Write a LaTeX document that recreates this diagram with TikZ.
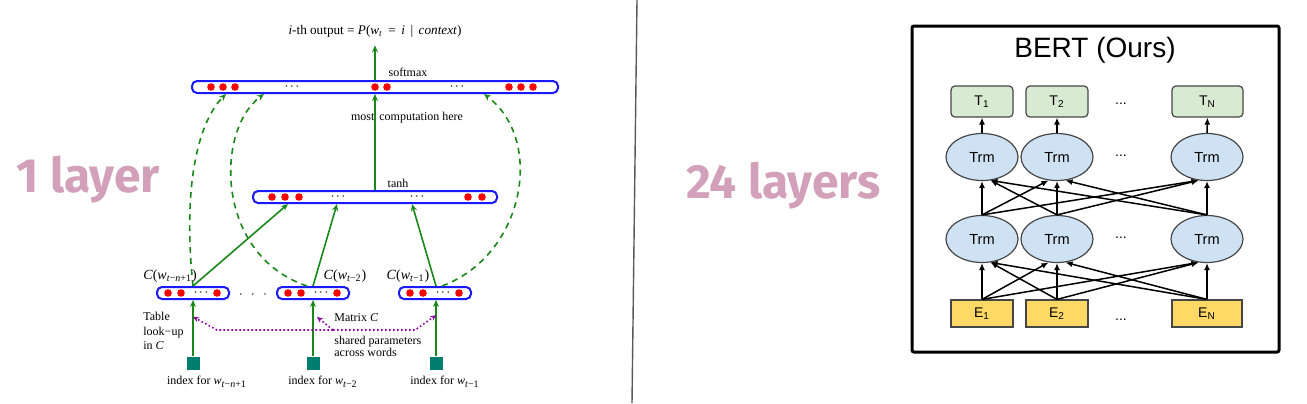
\documentclass[tikz,border=0pt]{standalone}
\usepackage{fontspec}
\setmainfont{Liberation Serif}
\newfontfamily\arialf{Liberation Sans}
\newfontfamily\bigf{Fira Sans}
\usetikzlibrary{shapes.geometric,arrows.meta,calc}
\newcommand\iv[1]{\textit{#1}}
\newcommand\sbs[1]{\textsubscript{#1}}
\definecolor{nngreen}{RGB}{25,135,25}
\definecolor{nnblue}{RGB}{25,25,250}
\definecolor{nnred}{RGB}{250,0,0}
\definecolor{nnteal}{RGB}{0,125,110}
\definecolor{nnpurple}{RGB}{140,0,160}
\definecolor{pinkl}{RGB}{210,160,184}
\definecolor{tgreen}{RGB}{217,234,211}
\definecolor{tblue}{RGB}{207,226,243}
\definecolor{eyellow}{RGB}{255,217,102}
\definecolor{bdark}{RGB}{70,70,70}
\tikzset{
  vecbox/.style={draw=nnblue, line width=1pt, rounded corners=2.5pt, minimum height=6pt, inner sep=0pt},
  garrow/.style={draw=nngreen, line width=0.8pt, -{Stealth[length=3.5pt,width=3pt]}},
  gdash/.style={garrow, dash pattern=on 3pt off 2.5pt},
  pdot/.style={draw=nnpurple, line width=0.8pt, dash pattern=on 0.8pt off 1.2pt},
  parrow/.style={pdot, -{Stealth[length=3pt,width=2.6pt]}},
  lbl/.style={font=\fontsize{6}{7.25}\selectfont, inner sep=0pt},
  mlbl/.style={font=\fontsize{7}{8}\selectfont, inner sep=0pt},
  idx/.style={fill=nnteal, minimum size=6.5pt, inner sep=0pt},
  tbox/.style={draw=bdark, fill=tgreen, rounded corners=2pt, line width=0.6pt, minimum height=15.5pt, inner sep=0pt, font=\arialf\fontsize{7}{8}\selectfont},
  ebox/.style={draw=bdark, fill=eyellow, line width=0.6pt, minimum height=13.5pt, inner sep=0pt, font=\arialf\fontsize{7}{8}\selectfont},
  trm/.style={ellipse, draw=bdark, fill=tblue, line width=0.6pt, minimum width=36pt, minimum height=23.5pt, inner sep=0pt, font=\arialf\fontsize{7.3}{8}\selectfont},
  barrow/.style={line width=0.75pt, -{Latex[length=3.5pt,width=3pt]}},
  bdots/.style={font=\arialf\fontsize{7}{8}\selectfont, inner sep=0pt},
  big/.style={anchor=base west, text=pinkl, inner sep=0pt, font=\bigf\bfseries\fontsize{24}{24}\selectfont}
}
\begin{document}
\begin{tikzpicture}[x=0.5pt,y=-0.5pt]
\useasboundingbox (0,0) rectangle (1307,403);
% divider
\coordinate (dtop) at (637,0);
\coordinate (dbot) at (632,403);
\draw[gray!70!black, line width=0.7pt] (dtop) -- (dbot);
% big labels
\node[big] (one) at (16,192) {1 layer};
\node[big] (twentyfour) at (686,198) {24 layers};

% ---------- left: NPLM ----------
\node[vecbox, minimum width=183pt] (soft) at (375,87) {};
\node[vecbox, minimum width=122pt] (tanh) at (375,197) {};
\node[vecbox, minimum width=36pt] (c1) at (193,293) {};
\node[vecbox, minimum width=36pt] (c2) at (313,293) {};
\node[vecbox, minimum width=36pt] (c3) at (435,293) {};
% dots
\foreach \x in {211,223,235,375,387,509,521,533} \fill[nnred] (\x,87) circle[radius=1.9pt];
\foreach \x in {272,285,299,468,482} \fill[nnred] (\x,197) circle[radius=1.9pt];
\foreach \c in {193,313,435} {
  \foreach \o in {-25,-12,24} \fill[nnred] (\c+\o,293) circle[radius=1.9pt];
}
\node[lbl] (sd1) at (292,87) {$\cdot\!\cdot\!\cdot$};
\node[lbl] (sd2) at (457,87) {$\cdot\!\cdot\!\cdot$};
\node[lbl] (td1) at (338,197) {$\cdot\!\cdot\!\cdot$};
\node[lbl] (td2) at (417,197) {$\cdot\!\cdot\!\cdot$};
\node[lbl] (cd1) at (201,293) {$\cdot\!\cdot\!\cdot$};
\node[lbl] (cd2) at (321,293) {$\cdot\!\cdot\!\cdot$};
\node[lbl] (cd3) at (443,293) {$\cdot\!\cdot\!\cdot$};
\node[lbl] (bd) at (253,295) {$\cdot\;\cdot\;\cdot$};
% index squares
\node[idx] (i1) at (193,363) {};
\node[idx] (i2) at (313,363) {};
\node[idx] (i3) at (436,363) {};
% labels
\node[mlbl, inner sep=4pt, font=\fontsize{6.6}{7}\selectfont] (title) at (375,31) {\iv{i}-th output = \iv{P}(\iv{w}\sbs{\iv{t}} \,=\, \iv{i} \,|\, \iv{context})};
\node[lbl] (lsoft) at (408,72) {softmax};
\node[lbl] (lmost) at (407,118) {most\hspace{2.5pt}computation here};
\node[lbl] (ltanh) at (398,183) {tanh};
\node[mlbl] (lc1) at (170,276) {\iv{C}(\iv{w}\sbs{\iv{t}−\iv{n}+1})};
\node[mlbl] (lc2) at (345,276) {\iv{C}(\iv{w}\sbs{\iv{t}−2})};
\node[mlbl] (lc3) at (408,276) {\iv{C}(\iv{w}\sbs{\iv{t}−1})};
\node[lbl, align=left, anchor=north west] (ltab) at (143,312) {Table\\ look−up\\ in \iv{C}};
\node[lbl, anchor=west] (lmat) at (334,318) {Matrix \iv{C}};
\node[lbl, align=left, anchor=north west, font=\fontsize{6}{6.1}\selectfont] (lshared) at (334,336) {shared parameters\\across words};
\node[lbl] (li1) at (207,382) {index for \iv{w}\sbs{\iv{t}−\iv{n}+1}};
\node[lbl] (li2) at (323,382) {index for \iv{w}\sbs{\iv{t}−2}};
\node[lbl] (li3) at (445,382) {index for \iv{w}\sbs{\iv{t}−1}};
% solid arrows
\draw[garrow] (soft.north) -- (title.south);
\draw[garrow] (tanh.north) -- (soft.south);
\draw[garrow] (c1.north) -- ($(tanh.south west)+(36,0)$);
\draw[garrow] (c2.north) -- ($(tanh.south west)+(85,0)$);
\draw[garrow] ($(c3.north)+(1,0)$) -- ($(tanh.south west)+(160,0)$);
\draw[garrow] (i1.north) -- (c1.south);
\draw[garrow] (i2.north) -- (c2.south);
\draw[garrow] (i3.north) -- ($(c3.south)+(1,0)$);
% dashed curves
\draw[gdash] (c1.north) .. controls (182,180) and (200,120) .. ($(soft.south west)+(35,0)$);
\draw[gdash] ($(c2.north)+(-6,0)$) .. controls (215,255) and (215,130) .. ($(soft.south west)+(73,0)$);
\draw[gdash] ($(c3.north)+(7,0)$) .. controls (525,255) and (545,140) .. ($(soft.south west)+(293,0)$);
% purple dotted
\coordinate (pl) at (217,330);
\coordinate (pr) at (415,330);
\coordinate (pm) at (333,330);
\coordinate (tl) at ($(c1.south)!0.3!(i1.north)$);
\coordinate (tm) at ($(c2.south)!0.3!(i2.north)+(4,0)$);
\coordinate (tr) at ($(c3.south)!0.27!(i3.north)+(1,0)$);
\draw[parrow] (pm) -- (pl) -- (tl);
\draw[parrow] (pm) -- (pr) -- (tr);
\draw[parrow] (pm) -- (tm);

% ---------- right: BERT ----------
\node[draw=black, line width=1.5pt, rounded corners=1pt, minimum width=183.5pt, minimum height=163pt, inner sep=0pt] (frame) at (1095.5,189) {};
\node[font=\arialf\fontsize{14}{16}\selectfont, inner sep=0pt] (btitle) at (1095,50) {BERT (Ours)};
\node[tbox, minimum width=31pt] (t1) at (982,101.5) {T\textsubscript{1}};
\node[tbox, minimum width=31pt] (t2) at (1057,101.5) {T\textsubscript{2}};
\node[tbox, minimum width=35.5pt] (tn) at (1207.5,101.5) {T\textsubscript{N}};
\node[trm] (u1) at (982,157) {Trm};
\node[trm] (u2) at (1057,157) {Trm};
\node[trm] (un) at (1207,157) {Trm};
\node[trm] (l1) at (982,239) {Trm};
\node[trm] (l2) at (1057,239) {Trm};
\node[trm] (ln) at (1207,239) {Trm};
\node[ebox, minimum width=31pt] (e1) at (982,313.5) {E\textsubscript{1}};
\node[ebox, minimum width=31pt] (e2) at (1057,313.5) {E\textsubscript{2}};
\node[ebox, minimum width=35pt] (en) at (1207,313.5) {E\textsubscript{N}};
\node[bdots] (bd1) at (1121,104) {...};
\node[bdots] (bd2) at (1121,156) {...};
\node[bdots] (bd3) at (1121,238) {...};
\node[bdots] (bd4) at (1121,320) {...};
% arrows E -> lower Trm
\draw[barrow] (e1.north) -- (l1.south);
\draw[barrow] (e1.north) -- (l2.-110);
\draw[barrow] (e1.north) -- (ln.-110);
\draw[barrow] (e2.north) -- (l1.-70);
\draw[barrow] (e2.north) -- (l2.south);
\draw[barrow] (e2.north) -- (ln.-110);
\draw[barrow] (en.north) -- (l1.-70);
\draw[barrow] (en.north) -- (l2.-70);
\draw[barrow] (en.north) -- (ln.south);
% lower -> upper
\draw[barrow] (l1.north) -- (u1.south);
\draw[barrow] (l1.north) -- (u2.-110);
\draw[barrow] (l1.north) -- (un.-110);
\draw[barrow] (l2.north) -- (u1.-70);
\draw[barrow] (l2.north) -- (u2.south);
\draw[barrow] (l2.north) -- (un.-110);
\draw[barrow] (ln.north) -- (u1.-70);
\draw[barrow] (ln.north) -- (u2.-70);
\draw[barrow] (ln.north) -- (un.south);
% upper -> T
\draw[barrow] (u1.north) -- (t1.south);
\draw[barrow] (u2.north) -- (t2.south);
\draw[barrow] (un.north) -- (tn.south);
\end{tikzpicture}
\end{document}
